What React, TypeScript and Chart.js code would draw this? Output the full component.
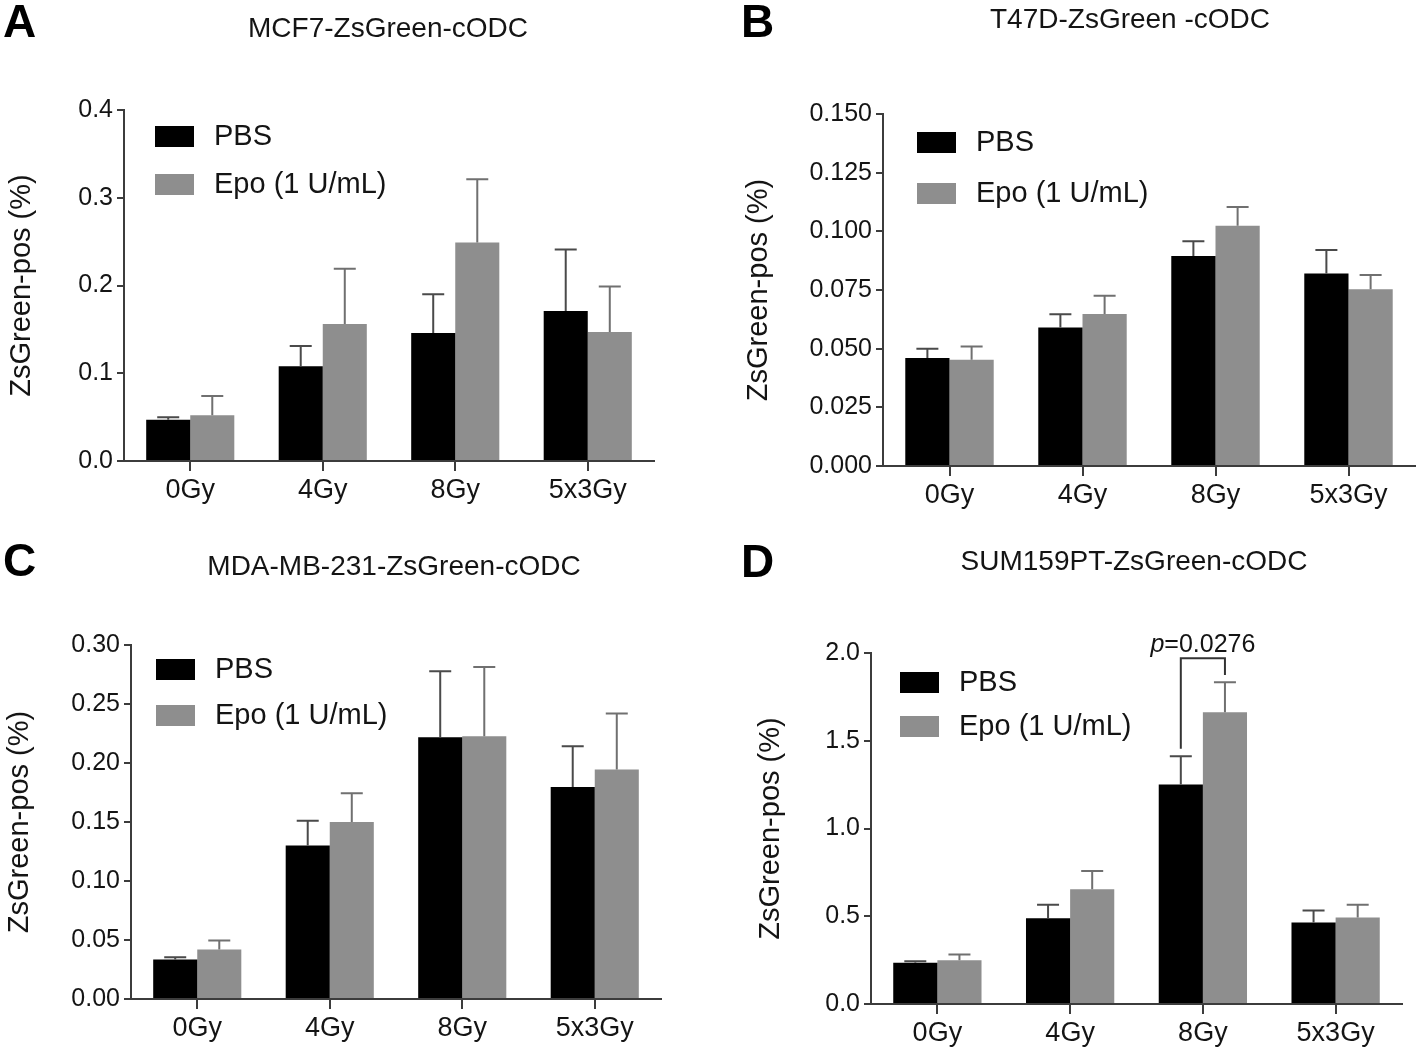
import React, { useEffect, useRef } from "react";
import { Chart, registerables } from "chart.js";

Chart.register(...registerables);

const FONT = "'Liberation Sans', Arial, Helvetica, sans-serif";

// ---------- data ----------
const categories = ["0Gy", "4Gy", "8Gy", "5x3Gy"];
const seriesLabels = ["PBS", "Epo (1 U/mL)"];
const yAxisLabel = "ZsGreen-pos (%)";

const panelLetters = ["A", "B", "C", "D"];
const panelTitles = [
  "MCF7-ZsGreen-cODC",
  "T47D-ZsGreen -cODC",
  "MDA-MB-231-ZsGreen-cODC",
  "SUM159PT-ZsGreen-cODC",
];

// Panel A
const pbsA = [0.047, 0.108, 0.146, 0.171];
const pbsErrA = [0.003, 0.023, 0.044, 0.07];
const epoA = [0.052, 0.156, 0.249, 0.147];
const epoErrA = [0.022, 0.063, 0.072, 0.052];

// Panel B
const pbsB = [0.046, 0.059, 0.0895, 0.082];
const pbsErrB = [0.004, 0.0057, 0.0063, 0.01];
const epoB = [0.0453, 0.0648, 0.1024, 0.0753];
const epoErrB = [0.0056, 0.0077, 0.008, 0.0061];

// Panel C
const pbsC = [0.0334, 0.13, 0.2218, 0.1797];
const pbsErrC = [0.002, 0.021, 0.056, 0.0345];
const epoC = [0.0419, 0.15, 0.2227, 0.1944];
const epoErrC = [0.0076, 0.0243, 0.0586, 0.0475];

// Panel D
const pbsD = [0.235, 0.489, 1.251, 0.464];
const pbsErrD = [0.008, 0.076, 0.161, 0.069];
const epoD = [0.25, 0.654, 1.663, 0.493];
const epoErrD = [0.032, 0.104, 0.17, 0.072];

// y-axis ranges: [max, step, decimals]
const yMaxes = [0.4, 0.15, 0.3, 2.0];
const ySteps = [0.1, 0.025, 0.05, 0.5];
const yDecimals = [1, 3, 2, 1];

// significance annotation (panel D, 8Gy)
const sigLabelP = "p";
const sigLabelRest = "=0.0276";
const sigCategory = 2;
const sigTop = 1.97;
const sigLegBottoms = [1.455, 1.875];

// ---------- styles / layout ----------
const PBS_COLOR = "#000000";
const EPO_COLOR = "#8e8e8e";
const PBS_ERR_COLOR = "#4a4a4a";
const EPO_ERR_COLOR = "#707070";
const AXIS_COLOR = "#3c3c3c";
const TEXT_COLOR = "#141414";

type Geo = {
  cx: number; cy: number; cw: number; ch: number;
  L: number; T: number; R: number; B: number;
  yTitleX: number;
  letterX: number; letterY: number;
  titleX: number; titleY: number;
  legX: number; legTextX: number; legY1: number; legY2: number;
};

const geos: Geo[] = [
  { cx: 0, cy: 0, cw: 709, ch: 525, L: 124, T: 110, R: 654, B: 461, yTitleX: 22,
    letterX: 3, letterY: 37, titleX: 388, titleY: 37,
    legX: 155, legTextX: 214, legY1: 126, legY2: 174 },
  { cx: 709, cy: 0, cw: 709, ch: 525, L: 883, T: 114, R: 1415, B: 466, yTitleX: 759,
    letterX: 741, letterY: 37, titleX: 1130, titleY: 28,
    legX: 917, legTextX: 976, legY1: 132, legY2: 183 },
  { cx: 0, cy: 525, cw: 709, ch: 526, L: 131, T: 645, R: 661, B: 999, yTitleX: 20,
    letterX: 3, letterY: 576, titleX: 394, titleY: 575,
    legX: 156, legTextX: 215, legY1: 659, legY2: 705 },
  { cx: 709, cy: 525, cw: 709, ch: 526, L: 871, T: 653, R: 1402, B: 1004, yTitleX: 771,
    letterX: 741, letterY: 577, titleX: 1134, titleY: 570,
    legX: 900, legTextX: 959, legY1: 672, legY2: 716 },
];

const panelData = [
  { pbs: pbsA, pbsErr: pbsErrA, epo: epoA, epoErr: epoErrA },
  { pbs: pbsB, pbsErr: pbsErrB, epo: epoB, epoErr: epoErrB },
  { pbs: pbsC, pbsErr: pbsErrC, epo: epoC, epoErr: epoErrC },
  { pbs: pbsD, pbsErr: pbsErrD, epo: epoD, epoErr: epoErrD },
];

const TITLE_SIZE = 28;
const YTITLE_SIZE = 29;
const TICK_SIZE = 25;
const XTICK_SIZE = 27;
const LEGEND_SIZE = 29;
const LETTER_SIZE = 46;

function Panel({ idx }: { idx: number }) {
  const ref = useRef<HTMLCanvasElement | null>(null);
  const g = geos[idx];
  const d = panelData[idx];

  useEffect(() => {
    const canvas = ref.current;
    if (!canvas) return;
    const errs = [d.pbsErr, d.epoErr];
    const errColors = [PBS_ERR_COLOR, EPO_ERR_COLOR];
    const yTitleLine = YTITLE_SIZE * 1.2;

    const overlay = {
      id: "overlay" + idx,
      afterDatasetsDraw(chart: any) {
        const ctx = chart.ctx;
        const y = chart.scales.y;
        ctx.save();
        ctx.lineWidth = 2;
        ctx.lineCap = "butt";
        for (let di = 0; di < 2; di++) {
          const meta = chart.getDatasetMeta(di);
          const vals = chart.data.datasets[di].data as number[];
          ctx.strokeStyle = errColors[di];
          meta.data.forEach((el: any, i: number) => {
            const top = y.getPixelForValue(vals[i] + errs[di][i]);
            ctx.beginPath();
            ctx.moveTo(el.x, el.y);
            ctx.lineTo(el.x, top);
            ctx.moveTo(el.x - 11, top);
            ctx.lineTo(el.x + 11, top);
            ctx.stroke();
          });
        }
        ctx.restore();
      },
      afterDraw(chart: any) {
        const ctx = chart.ctx;
        ctx.save();
        // panel letter
        ctx.fillStyle = "#000";
        ctx.font = `bold ${LETTER_SIZE}px ${FONT}`;
        ctx.textAlign = "left";
        ctx.textBaseline = "alphabetic";
        ctx.fillText(panelLetters[idx], g.letterX - g.cx, g.letterY - g.cy);
        // title
        ctx.fillStyle = TEXT_COLOR;
        ctx.font = `${TITLE_SIZE}px ${FONT}`;
        ctx.textAlign = "center";
        ctx.fillText(panelTitles[idx], g.titleX - g.cx, g.titleY - g.cy);
        // legend
        const ys = [g.legY1, g.legY2];
        ctx.textAlign = "left";
        ctx.textBaseline = "middle";
        ctx.font = `${LEGEND_SIZE}px ${FONT}`;
        chart.data.datasets.forEach((ds: any, di: number) => {
          ctx.fillStyle = ds.backgroundColor;
          ctx.fillRect(g.legX - g.cx, ys[di] - g.cy, 39, 21);
          ctx.fillStyle = TEXT_COLOR;
          ctx.fillText(ds.label, g.legTextX - g.cx, ys[di] - g.cy + 11);
        });
        // significance bracket (panel D)
        if (idx === 3) {
          const y = chart.scales.y;
          const m0 = chart.getDatasetMeta(0).data[sigCategory] as any;
          const m1 = chart.getDatasetMeta(1).data[sigCategory] as any;
          const yt = y.getPixelForValue(sigTop);
          ctx.strokeStyle = "#333";
          ctx.lineWidth = 2;
          ctx.beginPath();
          ctx.moveTo(m0.x, y.getPixelForValue(sigLegBottoms[0]));
          ctx.lineTo(m0.x, yt);
          ctx.lineTo(m1.x, yt);
          ctx.lineTo(m1.x, y.getPixelForValue(sigLegBottoms[1]));
          ctx.stroke();
          const cxm = (m0.x + m1.x) / 2;
          ctx.fillStyle = TEXT_COLOR;
          ctx.textBaseline = "alphabetic";
          const fP = `italic 25px ${FONT}`;
          const fR = `25px ${FONT}`;
          ctx.font = fP;
          const wP = ctx.measureText(sigLabelP).width;
          ctx.font = fR;
          const wR = ctx.measureText(sigLabelRest).width;
          const x0 = cxm - (wP + wR) / 2;
          ctx.font = fP;
          ctx.fillText(sigLabelP, x0, yt - 6);
          ctx.font = fR;
          ctx.fillText(sigLabelRest, x0 + wP, yt - 6);
        }
        ctx.restore();
      },
    };

    const chart = new Chart(canvas, {
      type: "bar",
      data: {
        labels: categories,
        datasets: [
          { label: seriesLabels[0], data: d.pbs, backgroundColor: PBS_COLOR, borderWidth: 0,
            barPercentage: 1.0, categoryPercentage: 0.665 },
          { label: seriesLabels[1], data: d.epo, backgroundColor: EPO_COLOR, borderWidth: 0,
            barPercentage: 1.0, categoryPercentage: 0.665 },
        ],
      },
      options: {
        animation: false,
        responsive: false,
        maintainAspectRatio: false,
        events: [],
        layout: {
          padding: { left: 0, top: g.T - g.cy, right: g.cx + g.cw - g.R, bottom: 0 },
        },
        plugins: {
          legend: { display: false },
          title: { display: false },
          tooltip: { enabled: false },
        },
        scales: {
          x: {
            offset: true,
            grid: { offset: false, drawOnChartArea: false, drawTicks: true, tickLength: 10,
              color: AXIS_COLOR, lineWidth: 2 },
            border: { display: true, color: AXIS_COLOR, width: 2 },
            ticks: { color: TEXT_COLOR, font: { family: FONT, size: XTICK_SIZE }, padding: 3,
              maxRotation: 0, autoSkip: false },
            afterFit: (s: any) => { s.height = g.cy + g.ch - g.B; },
          },
          y: {
            min: 0,
            max: yMaxes[idx],
            grid: { drawOnChartArea: false, drawTicks: true, tickLength: 7,
              color: AXIS_COLOR, lineWidth: 2 },
            border: { display: true, color: AXIS_COLOR, width: 2 },
            ticks: {
              stepSize: ySteps[idx],
              color: TEXT_COLOR,
              font: { family: FONT, size: TICK_SIZE },
              padding: 4,
              callback: (v: any) => Number(v).toFixed(yDecimals[idx]),
            },
            title: {
              display: true,
              text: yAxisLabel,
              color: TEXT_COLOR,
              font: { family: FONT, size: YTITLE_SIZE },
              padding: { top: g.yTitleX - g.cx - yTitleLine / 2, bottom: 0 },
            },
            afterFit: (s: any) => { s.width = g.L - g.cx; },
          },
        },
      },
      plugins: [overlay],
    });
    return () => chart.destroy();
  }, [idx]);

  return (
    <canvas
      ref={ref}
      width={g.cw}
      height={g.ch}
      style={{ position: "absolute", left: g.cx, top: g.cy, width: g.cw, height: g.ch }}
    />
  );
}

export default function App() {
  return (
    <div style={{ position: "absolute", left: 0, top: 0, width: 1418, height: 1051, background: "#fff" }}>
      {[0, 1, 2, 3].map((i) => (
        <Panel key={i} idx={i} />
      ))}
    </div>
  );
}
